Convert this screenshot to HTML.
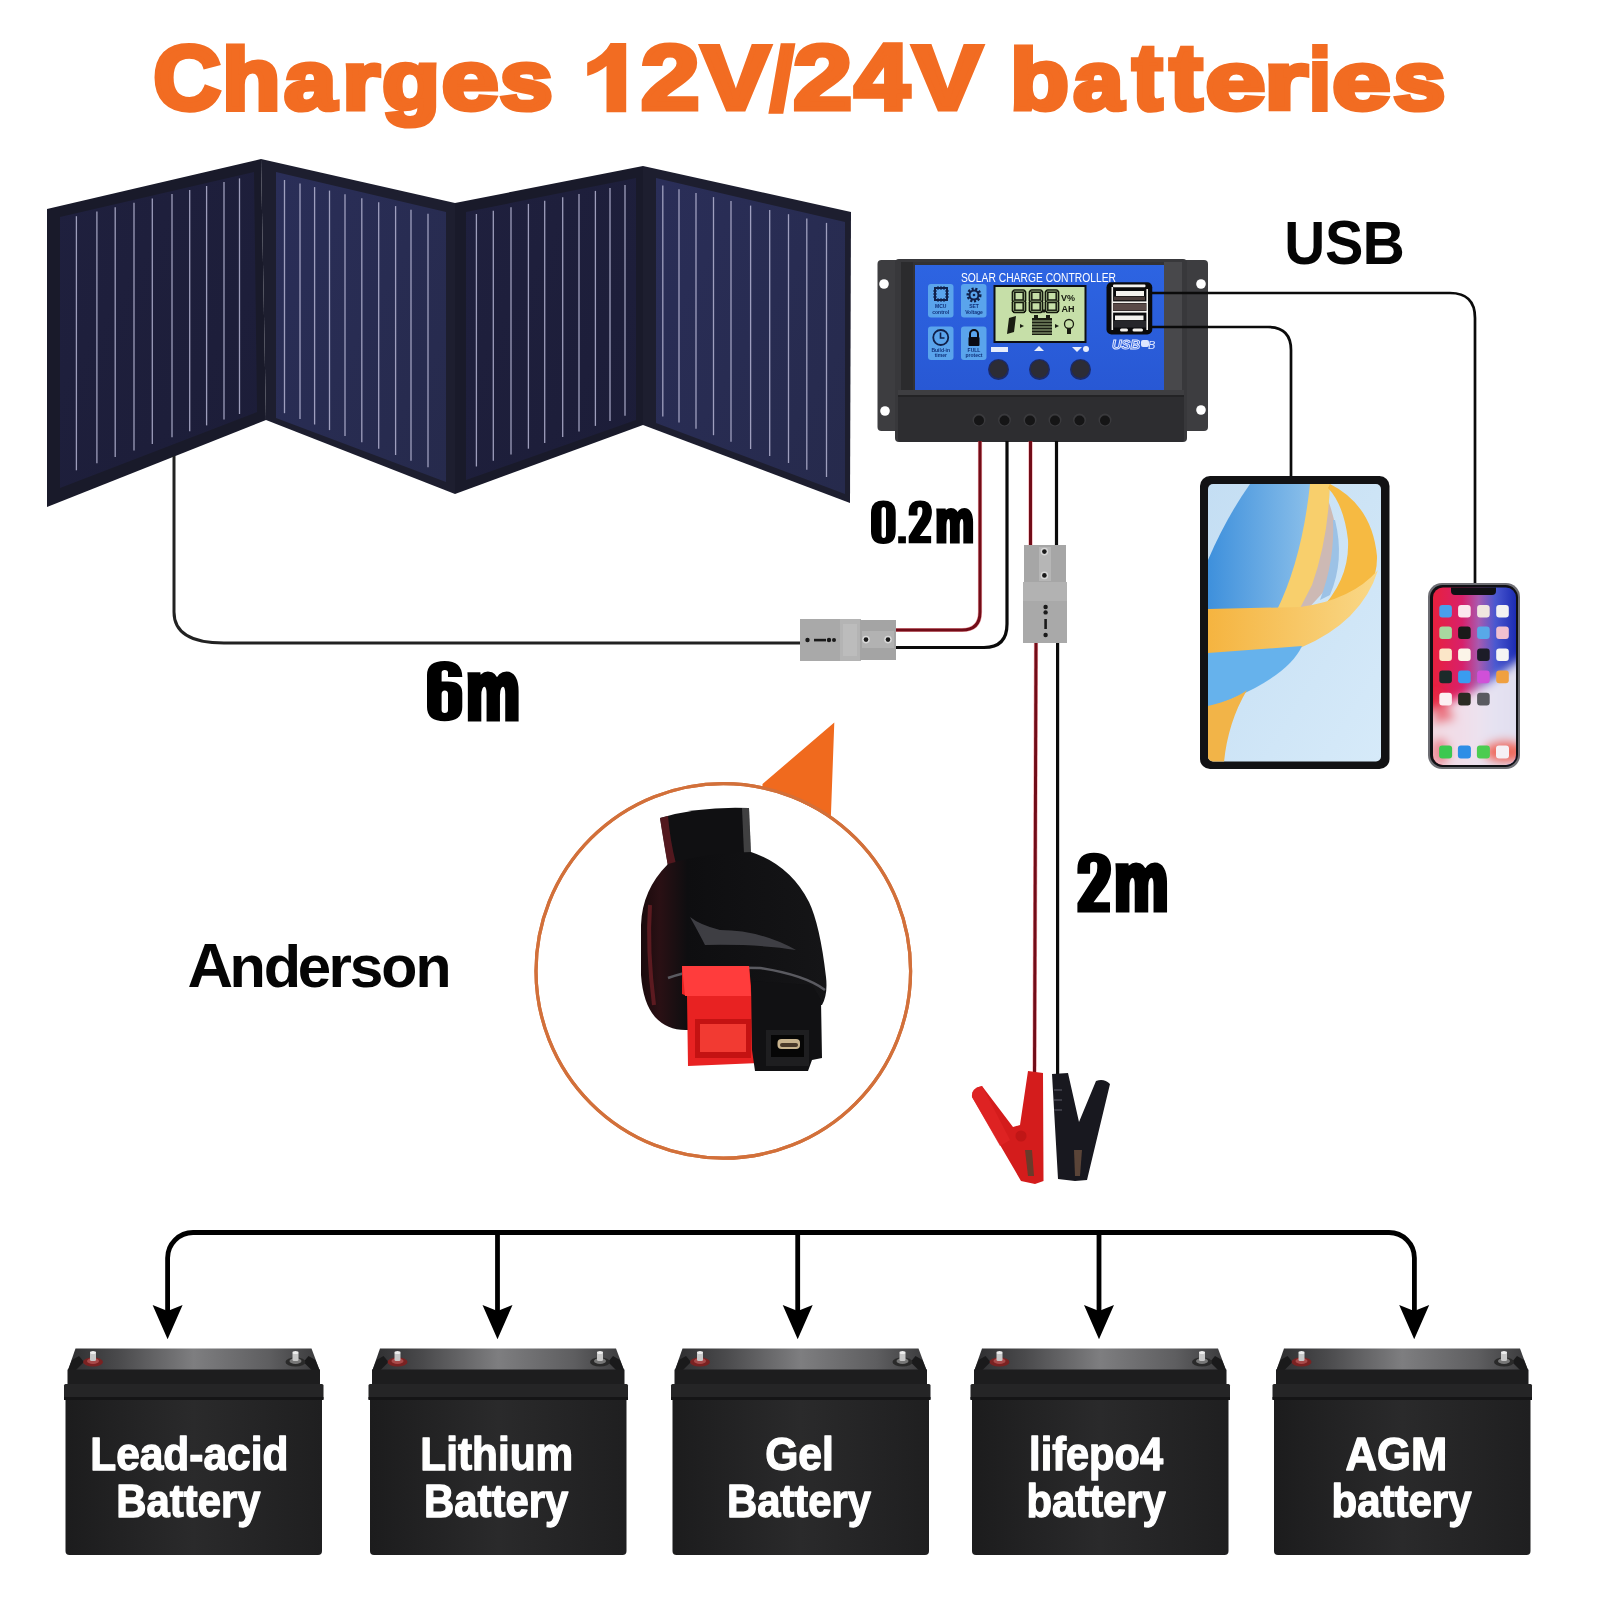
<!DOCTYPE html>
<html><head><meta charset="utf-8">
<style>
html,body{margin:0;padding:0;background:#fff;}
body{width:1600px;height:1600px;overflow:hidden;font-family:"Liberation Sans",sans-serif;}
svg{display:block;}
text{font-family:"Liberation Sans",sans-serif;font-weight:bold;-webkit-font-smoothing:antialiased;}
svg{will-change:transform;}
</style></head>
<body>
<svg width="1600" height="1600" viewBox="0 0 1600 1600">

<defs>
<linearGradient id="gP2" x1="0" y1="0" x2="1" y2="1"><stop offset="0" stop-color="#2a2e58"/><stop offset="1" stop-color="#262a4c"/></linearGradient>
<linearGradient id="gP1" x1="0" y1="0" x2="1" y2="1"><stop offset="0" stop-color="#1f203e"/><stop offset="1" stop-color="#1c1d38"/></linearGradient>
<linearGradient id="gBlue" x1="0" y1="0" x2="0" y2="1"><stop offset="0" stop-color="#2d64e2"/><stop offset="1" stop-color="#2858d4"/></linearGradient>
<linearGradient id="gBatTop" x1="0" y1="0" x2="1" y2="0"><stop offset="0" stop-color="#2e2e30"/><stop offset="0.2" stop-color="#4a4a4c"/><stop offset="0.5" stop-color="#7e7e80"/><stop offset="0.8" stop-color="#5e5e60"/><stop offset="1" stop-color="#3a3a3c"/></linearGradient>
<linearGradient id="gBatBody" x1="0" y1="0" x2="1" y2="0"><stop offset="0" stop-color="#1c1c1d"/><stop offset="0.5" stop-color="#2a2a2b"/><stop offset="1" stop-color="#1f1f20"/></linearGradient>
<linearGradient id="gPhone" x1="0" y1="0" x2="1" y2="1"><stop offset="0" stop-color="#e8384a"/><stop offset="0.45" stop-color="#b43a86"/><stop offset="1" stop-color="#2c47c8"/></linearGradient>
<linearGradient id="gPhoneB" x1="0" y1="0" x2="0" y2="1"><stop offset="0" stop-color="#fff" stop-opacity="0"/><stop offset="0.55" stop-color="#fff" stop-opacity="0"/><stop offset="0.8" stop-color="#f4d8dc" stop-opacity="0.9"/><stop offset="1" stop-color="#e84050" stop-opacity="0.9"/></linearGradient>
<linearGradient id="gGray" x1="0" y1="0" x2="0" y2="1"><stop offset="0" stop-color="#b0b0b0"/><stop offset="1" stop-color="#9e9e9e"/></linearGradient>
<radialGradient id="gConn" cx="0.4" cy="0.35" r="0.7"><stop offset="0" stop-color="#3a3a3c"/><stop offset="1" stop-color="#0c0c0d"/></radialGradient>
</defs>
<filter id="fBlur6" x="-20%" y="-20%" width="140%" height="140%"><feGaussianBlur stdDeviation="5"/></filter>
<rect width="1600" height="1600" fill="#fff"/>

<text transform="scale(1.0567,1.0367)" x="145.39" y="105.38" font-size="88" fill="#f26c22" stroke="#f26c22" stroke-width="5.25" stroke-linejoin="miter" stroke-miterlimit="3">C</text><text transform="scale(1.0806,0.9802)" x="205.77" y="111.46" font-size="88" fill="#f26c22" stroke="#f26c22" stroke-width="5.34" stroke-linejoin="miter" stroke-miterlimit="3">h</text><text transform="scale(1.0603,0.9461)" x="268.11" y="115.47" font-size="88" fill="#f26c22" stroke="#f26c22" stroke-width="5.49" stroke-linejoin="miter" stroke-miterlimit="3">a</text><text transform="scale(1.0880,0.9326)" x="314.73" y="117.15" font-size="88" fill="#f26c22" stroke="#f26c22" stroke-width="5.46" stroke-linejoin="miter" stroke-miterlimit="3">r</text><text transform="scale(1.0710,0.9326)" x="356.94" y="117.15" font-size="88" fill="#f26c22" stroke="#f26c22" stroke-width="5.50" stroke-linejoin="miter" stroke-miterlimit="3">g</text><text transform="scale(1.1601,0.9440)" x="380.79" y="115.73" font-size="88" fill="#f26c22" stroke="#f26c22" stroke-width="5.26" stroke-linejoin="miter" stroke-miterlimit="3">e</text><text transform="scale(1.0808,0.9431)" x="462.31" y="115.84" font-size="88" fill="#f26c22" stroke="#f26c22" stroke-width="5.45" stroke-linejoin="miter" stroke-miterlimit="3">s</text><text transform="scale(1.1967,1.0302)" x="535.65" y="106.05" font-size="88" fill="#f26c22" stroke="#f26c22" stroke-width="4.95" stroke-linejoin="miter" stroke-miterlimit="3">2</text><text transform="scale(1.1654,1.0323)" x="601.91" y="105.83" font-size="88" fill="#f26c22" stroke="#f26c22" stroke-width="5.01" stroke-linejoin="miter" stroke-miterlimit="3">V</text><text transform="scale(0.9129,0.9943)" x="844.28" y="109.88" font-size="88" fill="#f26c22" stroke="#f26c22" stroke-width="5.77" stroke-linejoin="miter" stroke-miterlimit="3">/</text><text transform="scale(1.2014,1.0302)" x="660.22" y="106.05" font-size="88" fill="#f26c22" stroke="#f26c22" stroke-width="4.94" stroke-linejoin="miter" stroke-miterlimit="3">2</text><text transform="scale(1.1223,1.0447)" x="761.45" y="104.57" font-size="88" fill="#f26c22" stroke="#f26c22" stroke-width="5.08" stroke-linejoin="miter" stroke-miterlimit="3">4</text><text transform="scale(1.1741,1.0323)" x="777.67" y="105.83" font-size="88" fill="#f26c22" stroke="#f26c22" stroke-width="5.00" stroke-linejoin="miter" stroke-miterlimit="3">V</text><text transform="scale(1.0892,0.9770)" x="927.48" y="111.82" font-size="88" fill="#f26c22" stroke="#f26c22" stroke-width="5.33" stroke-linejoin="miter" stroke-miterlimit="3">b</text><text transform="scale(1.0166,0.9334)" x="1055.92" y="117.04" font-size="88" fill="#f26c22" stroke="#f26c22" stroke-width="5.65" stroke-linejoin="miter" stroke-miterlimit="3">a</text><text transform="scale(1.0163,1.0452)" x="1114.25" y="104.53" font-size="88" fill="#f26c22" stroke="#f26c22" stroke-width="5.34" stroke-linejoin="miter" stroke-miterlimit="3">t</text><text transform="scale(1.1158,1.0452)" x="1048.38" y="104.53" font-size="88" fill="#f26c22" stroke="#f26c22" stroke-width="5.09" stroke-linejoin="miter" stroke-miterlimit="3">t</text><text transform="scale(1.2236,0.9334)" x="985.21" y="117.04" font-size="88" fill="#f26c22" stroke="#f26c22" stroke-width="5.15" stroke-linejoin="miter" stroke-miterlimit="3">e</text><text transform="scale(1.2798,0.9326)" x="987.74" y="117.15" font-size="88" fill="#f26c22" stroke="#f26c22" stroke-width="5.03" stroke-linejoin="miter" stroke-miterlimit="3">r</text><text transform="scale(0.8531,0.9770)" x="1535.08" y="111.82" font-size="88" fill="#f26c22" stroke="#f26c22" stroke-width="6.02" stroke-linejoin="miter" stroke-miterlimit="3">i</text><text transform="scale(1.1907,0.9334)" x="1118.80" y="117.04" font-size="88" fill="#f26c22" stroke="#f26c22" stroke-width="5.22" stroke-linejoin="miter" stroke-miterlimit="3">e</text><text transform="scale(1.0583,0.9326)" x="1316.73" y="117.15" font-size="88" fill="#f26c22" stroke="#f26c22" stroke-width="5.54" stroke-linejoin="miter" stroke-miterlimit="3">s</text>
<path d="M606.5,112.2 L626.2,112.2 L626.2,43.1 L610.5,43.1 Q604,56 587.2,62.8 L587.2,76 Q599,72.5 606.5,66 Z" fill="#f26c22"/>
<g id="panels">
<polygon points="47,209 261,159 266,420 47,507" fill="#191a2a"/>
<polygon points="261,159 455,203 455,494 266,420" fill="#1d1e2f"/>
<polygon points="455,203 643,166 643,425 455,494" fill="#191a2a"/>
<polygon points="643,166 851,212 850,503 643,425" fill="#1d1e2f"/>
<polygon points="60,217 254,172 257,412 60,488" fill="url(#gP1)"/>
<polygon points="276,172 446,212 446,482 276,418" fill="url(#gP2)"/>
<polygon points="466,212 636,178 636,420 466,480" fill="url(#gP1)"/>
<polygon points="656,178 845,222 845,494 656,423" fill="url(#gP2)"/>
<g stroke="#b4b4d2" stroke-width="1.3" opacity="0.85">
<line x1="76.4" y1="216.2" x2="76.4" y2="470.3"/><line x1="96.9" y1="211.4" x2="96.9" y2="463.3"/><line x1="115.2" y1="207.2" x2="115.2" y2="456.9"/><line x1="134.0" y1="202.8" x2="134.0" y2="450.5"/><line x1="152.3" y1="198.6" x2="152.3" y2="444.1"/><line x1="172.0" y1="194.0" x2="172.0" y2="437.3"/><line x1="189.7" y1="189.9" x2="189.7" y2="431.2"/><line x1="206.6" y1="186.0" x2="206.6" y2="425.4"/><line x1="224.0" y1="182.0" x2="224.0" y2="419.4"/><line x1="239.5" y1="178.4" x2="239.5" y2="414.0"/>
<line x1="284.5" y1="180.0" x2="284.5" y2="413.2"/><line x1="300.0" y1="183.6" x2="300.0" y2="419.0"/><line x1="314.6" y1="187.1" x2="314.6" y2="424.5"/><line x1="329.5" y1="190.6" x2="329.5" y2="430.1"/><line x1="345.0" y1="194.2" x2="345.0" y2="436.0"/><line x1="361.8" y1="198.2" x2="361.8" y2="442.3"/><line x1="378.7" y1="202.2" x2="378.7" y2="448.7"/><line x1="395.6" y1="206.1" x2="395.6" y2="455.0"/><line x1="411.0" y1="209.8" x2="411.0" y2="460.8"/><line x1="428.0" y1="213.8" x2="428.0" y2="467.2"/>
<line x1="476.4" y1="214.0" x2="476.4" y2="466.5"/><line x1="493.3" y1="210.7" x2="493.3" y2="460.7"/><line x1="511.0" y1="207.3" x2="511.0" y2="454.6"/><line x1="528.4" y1="203.9" x2="528.4" y2="448.7"/><line x1="544.7" y1="200.7" x2="544.7" y2="443.1"/><line x1="562.7" y1="197.2" x2="562.7" y2="437.0"/><line x1="579.0" y1="194.1" x2="579.0" y2="431.4"/><line x1="595.4" y1="190.9" x2="595.4" y2="425.9"/><line x1="610.0" y1="188.0" x2="610.0" y2="420.9"/><line x1="625.0" y1="185.1" x2="625.0" y2="415.8"/>
<line x1="662.8" y1="185.6" x2="662.8" y2="416.5"/><line x1="679.0" y1="189.2" x2="679.0" y2="422.5"/><line x1="696.0" y1="193.1" x2="696.0" y2="428.8"/><line x1="713.5" y1="197.1" x2="713.5" y2="435.2"/><line x1="731.0" y1="201.1" x2="731.0" y2="441.7"/><line x1="750.6" y1="205.6" x2="750.6" y2="449.0"/><line x1="769.7" y1="210.0" x2="769.7" y2="456.0"/><line x1="788.5" y1="214.2" x2="788.5" y2="463.0"/><line x1="806.8" y1="218.4" x2="806.8" y2="469.7"/><line x1="826.5" y1="222.9" x2="826.5" y2="477.0"/>
</g>
</g>
<path d="M174,456 V612 Q174,643 224,643 H805" fill="none" stroke="#222" stroke-width="3"/>
<g id="controller"><rect x="877.5" y="260" width="26" height="171" rx="4" fill="#3d3d40"/><rect x="1182" y="260" width="26" height="171" rx="4" fill="#3d3d40"/><rect x="895" y="259" width="292" height="183" rx="4" fill="#38383b"/><rect x="901" y="262" width="280" height="130" fill="#323235"/><rect x="1164" y="262" width="18" height="130" fill="#48484b"/><rect x="901" y="262" width="12" height="130" fill="#2b2b2d"/><rect x="915" y="265" width="249" height="125" fill="url(#gBlue)"/><rect x="898" y="390" width="286" height="52" rx="3" fill="#2d2d30"/><rect x="898" y="390" width="286" height="5" fill="#3e3e41"/><rect x="898" y="395" width="286" height="2" fill="#232325"/><circle cx="979" cy="420" r="6.5" fill="#3a3a3d"/><circle cx="979" cy="420.5" r="5" fill="#151516"/><circle cx="1004.5" cy="420" r="6.5" fill="#3a3a3d"/><circle cx="1004.5" cy="420.5" r="5" fill="#151516"/><circle cx="1030" cy="420" r="6.5" fill="#3a3a3d"/><circle cx="1030" cy="420.5" r="5" fill="#151516"/><circle cx="1055" cy="420" r="6.5" fill="#3a3a3d"/><circle cx="1055" cy="420.5" r="5" fill="#151516"/><circle cx="1079.5" cy="420" r="6.5" fill="#3a3a3d"/><circle cx="1079.5" cy="420.5" r="5" fill="#151516"/><circle cx="1105" cy="420" r="6.5" fill="#3a3a3d"/><circle cx="1105" cy="420.5" r="5" fill="#151516"/><circle cx="884" cy="284" r="4.8" fill="#fff"/><circle cx="885" cy="411" r="4.8" fill="#fff"/><circle cx="1201" cy="284" r="4.8" fill="#fff"/><circle cx="1201" cy="410" r="4.8" fill="#fff"/><text x="961" y="281.5" font-size="13.5" font-weight="normal" fill="#fff" textLength="155" lengthAdjust="spacingAndGlyphs" style="font-weight:normal">SOLAR CHARGE CONTROLLER</text><rect x="928" y="284" width="25.5" height="33.5" rx="3" fill="#5aa4ec"/><rect x="961" y="284" width="25.5" height="33.5" rx="3" fill="#5aa4ec"/><rect x="928" y="326.5" width="25.5" height="33.5" rx="3" fill="#5aa4ec"/><rect x="961" y="326.5" width="25.5" height="33.5" rx="3" fill="#5aa4ec"/><rect x="935" y="288" width="12" height="12" fill="none" stroke="#10204a" stroke-width="2"/><g stroke="#10204a" stroke-width="1"><line x1="938" y1="286" x2="938" y2="302"/><line x1="941" y1="286" x2="941" y2="302"/><line x1="944" y1="286" x2="944" y2="302"/><line x1="933" y1="291" x2="949" y2="291"/><line x1="933" y1="294" x2="949" y2="294"/><line x1="933" y1="297" x2="949" y2="297"/></g><rect x="937" y="290" width="8" height="8" fill="#5aa4ec"/><text x="940.75" y="308" font-size="5" fill="#10307a" text-anchor="middle">MCU</text><text x="940.75" y="314" font-size="5" fill="#10307a" text-anchor="middle">control</text><circle cx="974" cy="295" r="6" fill="none" stroke="#10204a" stroke-width="3" stroke-dasharray="2 1.6"/><circle cx="974" cy="295" r="4.5" fill="none" stroke="#10204a" stroke-width="2"/><circle cx="974" cy="295" r="1.3" fill="#10204a"/><text x="974" y="308" font-size="5" fill="#10307a" text-anchor="middle">SET</text><text x="974" y="314" font-size="5" fill="#10307a" text-anchor="middle">Voltage</text><circle cx="940.75" cy="337.5" r="7.5" fill="none" stroke="#10204a" stroke-width="1.8"/><path d="M940.5,332.5 V338 H944.5" fill="none" stroke="#10204a" stroke-width="1.6"/><text x="940.75" y="351.5" font-size="5" fill="#10307a" text-anchor="middle">Build-in</text><text x="940.75" y="357" font-size="5" fill="#10307a" text-anchor="middle">timer</text><path d="M970,337 v-3 a4,4 0 0 1 8,0 v3" fill="none" stroke="#0a0a12" stroke-width="2"/><rect x="968.5" y="337" width="11" height="9" rx="1" fill="#0a0a12"/><text x="974" y="351.5" font-size="5" fill="#10307a" text-anchor="middle">FULL</text><text x="974" y="357" font-size="5" fill="#10307a" text-anchor="middle">protect</text><rect x="993.5" y="285" width="93" height="58" fill="#0d0f14"/><rect x="995.5" y="287" width="89" height="54" fill="#c6dfa8"/><g stroke="#15180e" stroke-width="3.9" stroke-linecap="round"><line x1="1014.6" y1="291.1" x2="1023.4" y2="291.1"/><line x1="1014.6" y1="301.2" x2="1023.4" y2="301.2"/><line x1="1014.6" y1="311.4" x2="1023.4" y2="311.4"/><line x1="1013.6" y1="292.1" x2="1013.6" y2="300.2"/><line x1="1024.4" y1="292.1" x2="1024.4" y2="300.2"/><line x1="1013.6" y1="302.2" x2="1013.6" y2="310.4"/><line x1="1024.4" y1="302.2" x2="1024.4" y2="310.4"/><line x1="1031.6" y1="291.1" x2="1040.4" y2="291.1"/><line x1="1031.6" y1="301.2" x2="1040.4" y2="301.2"/><line x1="1031.6" y1="311.4" x2="1040.4" y2="311.4"/><line x1="1030.6" y1="292.1" x2="1030.6" y2="300.2"/><line x1="1041.4" y1="292.1" x2="1041.4" y2="300.2"/><line x1="1030.6" y1="302.2" x2="1030.6" y2="310.4"/><line x1="1041.4" y1="302.2" x2="1041.4" y2="310.4"/><line x1="1047.6" y1="291.1" x2="1056.4" y2="291.1"/><line x1="1047.6" y1="301.2" x2="1056.4" y2="301.2"/><line x1="1047.6" y1="311.4" x2="1056.4" y2="311.4"/><line x1="1046.6" y1="292.1" x2="1046.6" y2="300.2"/><line x1="1057.4" y1="292.1" x2="1057.4" y2="300.2"/><line x1="1046.6" y1="302.2" x2="1046.6" y2="310.4"/><line x1="1057.4" y1="302.2" x2="1057.4" y2="310.4"/></g><g stroke="#9fb884" stroke-width="0.9" stroke-linecap="round"><line x1="1014.6" y1="291.1" x2="1023.4" y2="291.1"/><line x1="1014.6" y1="301.2" x2="1023.4" y2="301.2"/><line x1="1014.6" y1="311.4" x2="1023.4" y2="311.4"/><line x1="1013.6" y1="292.1" x2="1013.6" y2="300.2"/><line x1="1024.4" y1="292.1" x2="1024.4" y2="300.2"/><line x1="1013.6" y1="302.2" x2="1013.6" y2="310.4"/><line x1="1024.4" y1="302.2" x2="1024.4" y2="310.4"/><line x1="1031.6" y1="291.1" x2="1040.4" y2="291.1"/><line x1="1031.6" y1="301.2" x2="1040.4" y2="301.2"/><line x1="1031.6" y1="311.4" x2="1040.4" y2="311.4"/><line x1="1030.6" y1="292.1" x2="1030.6" y2="300.2"/><line x1="1041.4" y1="292.1" x2="1041.4" y2="300.2"/><line x1="1030.6" y1="302.2" x2="1030.6" y2="310.4"/><line x1="1041.4" y1="302.2" x2="1041.4" y2="310.4"/><line x1="1047.6" y1="291.1" x2="1056.4" y2="291.1"/><line x1="1047.6" y1="301.2" x2="1056.4" y2="301.2"/><line x1="1047.6" y1="311.4" x2="1056.4" y2="311.4"/><line x1="1046.6" y1="292.1" x2="1046.6" y2="300.2"/><line x1="1057.4" y1="292.1" x2="1057.4" y2="300.2"/><line x1="1046.6" y1="302.2" x2="1046.6" y2="310.4"/><line x1="1057.4" y1="302.2" x2="1057.4" y2="310.4"/></g><rect x="1042" y="309.5" width="3" height="3" fill="#15180e"/><text x="1061" y="301" font-size="9" fill="#15180e">V%</text><text x="1061.5" y="312" font-size="9" fill="#15180e">AH</text><g fill="#1a1d12"><path d="M1009,318 l7,-2 l-2,16 l-7,2 z"/><path d="M1020,324 l4,2 l-4,2 z"/><rect x="1032" y="318" width="20" height="17"/><rect x="1034" y="315" width="4" height="3"/><rect x="1046" y="315" width="4" height="3"/><path d="M1055,324 l4,2 l-4,2 z"/><circle cx="1069" cy="324" r="4.5" fill="none" stroke="#1a1d12" stroke-width="1.3"/><rect x="1067" y="329" width="4" height="5"/></g><g stroke="#c6dfa8" stroke-width="0.8"><line x1="1032" y1="321" x2="1052" y2="321"/><line x1="1032" y1="324" x2="1052" y2="324"/><line x1="1032" y1="327" x2="1052" y2="327"/><line x1="1032" y1="330" x2="1052" y2="330"/><line x1="1032" y1="333" x2="1052" y2="333"/></g><rect x="991" y="347" width="17" height="5" fill="#e8eefc"/><path d="M1039,346 l5,5 h-10 z" fill="#e8eefc"/><path d="M1072,347 h10 l-5,5 z" fill="#e8eefc"/><circle cx="1086" cy="349" r="3" fill="#e8eefc"/><circle cx="998.5" cy="369.5" r="10.5" fill="#1b2a6a"/><circle cx="998.5" cy="369" r="9" fill="#2c2c36"/><circle cx="1039.5" cy="369.5" r="10.5" fill="#1b2a6a"/><circle cx="1039.5" cy="369" r="9" fill="#2c2c36"/><circle cx="1080.5" cy="369.5" r="10.5" fill="#1b2a6a"/><circle cx="1080.5" cy="369" r="9" fill="#2c2c36"/><rect x="1106.5" y="282.25" width="45.75" height="52.25" rx="5" fill="#0a0a0c"/><g fill="#f4f2ee"><rect x="1111.5" y="287" width="1.6" height="43"/><rect x="1146.4" y="289" width="1.6" height="41"/><rect x="1113" y="284.6" width="32.5" height="2.6" rx="1"/><rect x="1116" y="291" width="28" height="5"/><rect x="1113" y="301.4" width="34" height="1.6"/><rect x="1113" y="311" width="34" height="1.6"/><rect x="1115" y="315.5" width="28.5" height="4.6"/><rect x="1120" y="328.4" width="8" height="3" rx="1.5"/><rect x="1132.5" y="328.4" width="10.5" height="3" rx="1.5"/></g><rect x="1114" y="296.6" width="31" height="3.6" fill="#4a3c3a"/><rect x="1113.2" y="303.4" width="33" height="7.2" fill="#5a4a48"/><rect x="1114" y="321" width="32" height="6.5" fill="#26262a"/><text x="1112" y="349" font-size="13" font-style="italic" fill="none" stroke="#dde6ff" stroke-width="1" textLength="28" lengthAdjust="spacingAndGlyphs">USB</text><rect x="1141" y="340" width="8" height="7" rx="2" fill="#dde6ff"/><text x="1148" y="349" font-size="11" font-style="italic" fill="#dde6ff" style="font-weight:normal">B</text></g>
<path d="M1150,293 H1450 Q1475,293 1475,318 V584" fill="none" stroke="#0b0b0b" stroke-width="2.7"/>
<path d="M1150,327 H1268 Q1291,327 1291,350 V477" fill="none" stroke="#0b0b0b" stroke-width="2.7"/>
<defs><clipPath id="cTab"><rect x="1208" y="484" width="173" height="277.5" rx="5"/></clipPath><linearGradient id="gTabBg" x1="0" y1="0" x2="1" y2="1"><stop offset="0" stop-color="#c4def3"/><stop offset="1" stop-color="#d6eaf9"/></linearGradient><linearGradient id="gBlueR" x1="0" y1="0" x2="1" y2="0"><stop offset="0" stop-color="#3e90dc"/><stop offset="1" stop-color="#8cc0ea"/></linearGradient><linearGradient id="gYel" x1="0" y1="0" x2="1" y2="0"><stop offset="0" stop-color="#f5b440"/><stop offset="1" stop-color="#f9d888"/></linearGradient></defs><rect x="1200" y="476" width="189.5" height="293" rx="10" fill="#121214"/><g clip-path="url(#cTab)"><rect x="1208" y="484" width="173" height="278" fill="url(#gTabBg)"/><path d="M1250,484 L1312,484 Q1305,560 1282,612 L1208,612 L1208,560 Q1226,518 1250,484 Z" fill="url(#gBlueR)"/><path d="M1328,500 Q1345,545 1330,585 L1305,612 L1290,612 Q1318,560 1322,500 Z" fill="#cdb9b4"/><path d="M1335,520 Q1345,560 1330,595 L1320,600 Q1335,560 1333,520 Z" fill="#9cc2e6"/><path d="M1310,484 L1330,484 Q1328,540 1312,585 L1298,612 L1276,612 Q1302,560 1310,484 Z" fill="#f8cf6c"/><path d="M1330,484 Q1372,505 1377,556 Q1378,592 1345,606 L1318,612 Q1350,580 1348,540 Q1344,505 1328,488 Z" fill="#f6ba42"/><path d="M1208,609 L1300,607 Q1352,600 1378,570 Q1362,622 1300,648 L1208,655 Z" fill="url(#gYel)"/><path d="M1208,653 L1302,646 Q1292,668 1255,688 Q1232,700 1208,708 Z" fill="#66b2ec"/><path d="M1208,706 Q1236,699 1247,690 Q1228,722 1224,762 L1208,762 Z" fill="#f2b448"/></g>
<defs><clipPath id="cPh"><rect x="1433" y="587.5" width="83" height="177.5" rx="10"/></clipPath><linearGradient id="gPhH" x1="0" y1="0" x2="1" y2="0"><stop offset="0" stop-color="#e8203e"/><stop offset="0.35" stop-color="#d8206a"/><stop offset="0.55" stop-color="#a85ab0"/><stop offset="0.75" stop-color="#4a58d0"/><stop offset="1" stop-color="#1c2cb4"/></linearGradient><linearGradient id="gPhV2" x1="0" y1="0" x2="0" y2="1"><stop offset="0" stop-color="#f2eef4" stop-opacity="0"/><stop offset="0.35" stop-color="#f2eef4" stop-opacity="0.85"/><stop offset="1" stop-color="#f4e4e6" stop-opacity="0.95"/></linearGradient></defs><rect x="1428" y="583" width="92" height="186" rx="14" fill="#6e6e74"/><rect x="1430" y="585" width="88" height="182" rx="12.5" fill="#101014"/><g clip-path="url(#cPh)"><rect x="1433" y="587" width="83" height="178" fill="url(#gPhH)"/><g filter="url(#fBlur6)"><path d="M1425,712 Q1460,700 1490,682 L1525,655 L1525,775 L1425,775 Z" fill="#f2eef4" opacity="0.92"/><ellipse cx="1505" cy="752" rx="22" ry="12" fill="#f0503c" opacity="0.8"/><ellipse cx="1440" cy="752" rx="10" ry="14" fill="#e84858" opacity="0.55"/><path d="M1433,690 Q1450,700 1455,720 L1433,725 Z" fill="#e83848" opacity="0.6"/></g><path d="M1451,587 h45 v4 q0,4 -4,4 h-37 q-4,0 -4,-4 z" fill="#101014"/><rect x="1439.3" y="605.0" width="12.6" height="12.6" rx="3" fill="#4aa0ec"/><rect x="1458.1" y="605.0" width="12.6" height="12.6" rx="3" fill="#fbe8ee"/><rect x="1477.1" y="605.0" width="12.6" height="12.6" rx="3" fill="#f0e6e0"/><rect x="1496.2" y="605.0" width="12.6" height="12.6" rx="3" fill="#f2f2f2"/><rect x="1439.3" y="626.5" width="12.6" height="12.6" rx="3" fill="#a8d8a0"/><rect x="1458.1" y="626.5" width="12.6" height="12.6" rx="3" fill="#1a1a1a"/><rect x="1477.1" y="626.5" width="12.6" height="12.6" rx="3" fill="#58a8e8"/><rect x="1496.2" y="626.5" width="12.6" height="12.6" rx="3" fill="#f0c0d0"/><rect x="1439.3" y="648.5" width="12.6" height="12.6" rx="3" fill="#fbe6c8"/><rect x="1458.1" y="648.5" width="12.6" height="12.6" rx="3" fill="#fbf4e8"/><rect x="1477.1" y="648.5" width="12.6" height="12.6" rx="3" fill="#1c1c28"/><rect x="1496.2" y="648.5" width="12.6" height="12.6" rx="3" fill="#f4f4f4"/><rect x="1439.3" y="670.6" width="12.6" height="12.6" rx="3" fill="#1c2a2a"/><rect x="1458.1" y="670.6" width="12.6" height="12.6" rx="3" fill="#3a9cf0"/><rect x="1477.1" y="670.6" width="12.6" height="12.6" rx="3" fill="#d050d8"/><rect x="1496.2" y="670.6" width="12.6" height="12.6" rx="3" fill="#f0a040"/><rect x="1439.3" y="692.8" width="12.6" height="12.6" rx="3" fill="#fcf0f2"/><rect x="1458.1" y="692.8" width="12.6" height="12.6" rx="3" fill="#2a2a22"/><rect x="1477.1" y="692.8" width="12.6" height="12.6" rx="3" fill="#5a5a60"/><rect x="1439.1" y="745.4" width="13" height="13" rx="3" fill="#3cc850"/><rect x="1457.9" y="745.4" width="13" height="13" rx="3" fill="#2e8ee6"/><rect x="1476.9" y="745.4" width="13" height="13" rx="3" fill="#4ccc50"/><rect x="1496.0" y="745.4" width="13" height="13" rx="3" fill="#f6f0f4"/></g>
<path d="M980,441 V612 Q980,630 962,630 H895" fill="none" stroke="#e8606a" stroke-width="4.2" opacity="0.55"/><path d="M980,441 V612 Q980,630 962,630 H895" fill="none" stroke="#720c18" stroke-width="3"/>
<path d="M1007,441 V624 Q1007,647.5 984,647.5 H895" fill="none" stroke="#0a0a0a" stroke-width="3.2"/>
<path d="M1030.5,441 V546" fill="none" stroke="#e8606a" stroke-width="4.2" opacity="0.55"/><path d="M1030.5,441 V546" fill="none" stroke="#720c18" stroke-width="3"/>
<path d="M1056.5,441 V546" fill="none" stroke="#0a0a0a" stroke-width="3.2"/>
<path d="M1036,642 L1034.5,1075" fill="none" stroke="#e8606a" stroke-width="4.2" opacity="0.55"/><path d="M1036,642 L1034.5,1075" fill="none" stroke="#720c18" stroke-width="3"/>
<path d="M1057.6,642 V1076" fill="none" stroke="#0a0a0a" stroke-width="3.2"/>
<rect x="800" y="619" width="41" height="42" fill="#a9a9a9"/><rect x="840" y="619" width="21" height="42" fill="#b4b4b4"/><rect x="860" y="620" width="36" height="40" fill="#a4a4a4"/><rect x="843" y="624" width="14" height="32" fill="#bcbcbc"/><rect x="862" y="631" width="32" height="17" fill="#b2b2b2"/><circle cx="807.5" cy="640" r="2.2" fill="#1a1a1a"/><rect x="814" y="638.8" width="12" height="2.6" fill="#1a1a1a"/><circle cx="829" cy="640" r="2.2" fill="#1a1a1a"/><circle cx="834" cy="640" r="2" fill="#1a1a1a"/><circle cx="866" cy="639.6" r="3.8" fill="#d8d8d8"/><circle cx="866" cy="639.6" r="2.3" fill="#1a1a1a"/><circle cx="888" cy="639.6" r="3.8" fill="#d8d8d8"/><circle cx="888" cy="639.6" r="2.3" fill="#1a1a1a"/><rect x="1024" y="545" width="42" height="38" fill="#a6a6a6"/><rect x="1039" y="547" width="12" height="34" fill="#b6b6b6"/><rect x="1023" y="582" width="44" height="20" fill="#b2b2b2"/><rect x="1023" y="601" width="44" height="42" fill="#a9a9a9"/><circle cx="1044.4" cy="551.6" r="3.8" fill="#d8d8d8"/><circle cx="1044.4" cy="551.6" r="2.3" fill="#1a1a1a"/><circle cx="1044.4" cy="575.4" r="3.8" fill="#d8d8d8"/><circle cx="1044.4" cy="575.4" r="2.3" fill="#1a1a1a"/><circle cx="1045.6" cy="607" r="2.2" fill="#1a1a1a"/><circle cx="1045.6" cy="612.4" r="2.2" fill="#1a1a1a"/><rect x="1044.3" y="619" width="2.6" height="10" fill="#1a1a1a"/><circle cx="1045.6" cy="635" r="2.2" fill="#1a1a1a"/>
<text transform="scale(0.9150,0.9987)" x="1403.56" y="263.94" font-size="62" fill="#050505">U</text><text transform="scale(0.9288,1.0025)" x="1426.65" y="262.94" font-size="62" fill="#050505">S</text><text transform="scale(0.9468,0.9987)" x="1439.13" y="263.94" font-size="62" fill="#050505">B</text>
<text transform="scale(1.0193,1.0104)" x="184.07" y="976.82" font-size="62" fill="#050505">A</text><text transform="scale(0.9586,0.9493)" x="239.51" y="1039.67" font-size="62" fill="#050505">n</text><text transform="scale(0.9890,0.9594)" x="266.60" y="1028.81" font-size="62" fill="#050505">d</text><text transform="scale(0.9686,0.9592)" x="307.31" y="1028.99" font-size="62" fill="#050505">e</text><text transform="scale(0.9685,0.9583)" x="339.24" y="1029.92" font-size="62" fill="#050505">r</text><text transform="scale(0.9745,0.9583)" x="359.03" y="1029.92" font-size="62" fill="#050505">s</text><text transform="scale(0.9537,0.9592)" x="399.68" y="1028.99" font-size="62" fill="#050505">o</text><text transform="scale(0.9519,0.9493)" x="436.62" y="1039.67" font-size="62" fill="#050505">n</text>
<text transform="scale(0.7814,1.0381)" x="596.56" y="691.46" font-size="77" fill="#000" stroke="#000" stroke-width="6.66" stroke-linejoin="miter" stroke-miterlimit="3">m</text>
<path fill-rule="evenodd" fill="#000" d="M444.6,660.9 Q462.3,661 462.3,677 L448,677 L448,681.5 Q462.3,681.5 462.3,693 L462.3,707 Q462.3,721.25 444.6,721.25 Q427,721.25 427,707 L427,675 Q427,660.9 444.6,660.9 Z M441.6,681.5 L441.6,672.5 Q441.6,669.9 444.8,669.9 Q448,669.9 448,672.5 L448,681.5 Z M441.6,694 Q441.6,690.5 444.8,690.5 Q448,690.5 448,694 L448,710 Q448,713 444.8,713 Q441.6,713 441.6,710 Z"/>
<text transform="scale(0.7834,1.0330)" x="1194.01" y="523.85" font-size="55" fill="#000" stroke="#000" stroke-width="5.00" stroke-linejoin="miter" stroke-miterlimit="3">m</text>
<path fill="#000" d="M908.70,515.60 L908.70,512.19 Q908.70,500.60 920.06,500.60 Q931.90,500.60 931.90,512.19 Q931.90,518.62 927.70,525.05 L919.79,535.96 L931.13,535.96 L931.13,543.20 L908.70,543.20 L908.70,536.47 L921.16,516.49 Q922.36,514.36 922.36,511.51 L922.36,509.33 Q922.36,507.03 919.93,507.03 Q917.45,507.03 917.45,509.33 L917.45,515.60 Z"/>
<path fill-rule="evenodd" fill="#000" d="M883.35,500.6 Q895.7,500.6 895.7,513 L895.7,531.5 Q895.7,544 883.35,544 Q871,544 871,531.5 L871,513 Q871,500.6 883.35,500.6 Z M883.75,507 Q886,507 886,510 L886,535 Q886,538 883.75,538 Q881.5,538 881.5,535 L881.5,510 Q881.5,507 883.75,507 Z"/>
<text transform="scale(0.8083,1.0534)" x="1378.45" y="863.30" font-size="75" fill="#000" stroke="#000" stroke-width="6.50" stroke-linejoin="miter" stroke-miterlimit="3">m</text>
<path fill="#000" d="M1077.40,873.75 L1077.40,868.97 Q1077.40,852.75 1093.90,852.75 Q1111.10,852.75 1111.10,868.97 Q1111.10,877.98 1105.00,886.99 L1093.51,902.26 L1109.99,902.26 L1109.99,912.40 L1077.40,912.40 L1077.40,902.98 L1095.50,875.00 Q1097.25,872.02 1097.25,868.02 L1097.25,864.98 Q1097.25,861.76 1093.71,861.76 Q1090.10,861.76 1090.10,864.98 L1090.10,873.75 Z"/>
<rect x="898.2" y="536.3" width="7.7" height="7" fill="#000"/>
<defs><linearGradient id="gCable" x1="0" y1="0" x2="0" y2="1"><stop offset="0" stop-color="#1a1a1a" stop-opacity="0.9"/><stop offset="1" stop-color="#0e0e0e"/></linearGradient><linearGradient id="gBoot" x1="0" y1="0" x2="1" y2="0"><stop offset="0" stop-color="#1a0a0c"/><stop offset="0.1" stop-color="#2a1014"/><stop offset="0.25" stop-color="#0e0e10"/><stop offset="1" stop-color="#151517"/></linearGradient><linearGradient id="gRed" x1="0" y1="0" x2="0" y2="1"><stop offset="0" stop-color="#f03438"/><stop offset="1" stop-color="#e0181c"/></linearGradient></defs><circle cx="723.3" cy="970.9" r="187.3" fill="#fff" stroke="#d2703a" stroke-width="3.2"/><path d="M762.5,784 L834.3,722.5 L830.8,818.5 Q798,797.5 762.5,787.5 Z" fill="#f06a1e"/><circle cx="723.3" cy="970.9" r="187.3" fill="none" stroke="#d2703a" stroke-width="3.2"/><path d="M660,818 Q700,806 749,808 L751,853 Q720,862 668,866 Z" fill="#101012"/><path d="M660,818 Q664,845 668,866 L676,864 Q670,840 668,816 Z" fill="#5a1a20" opacity="0.9"/><path d="M742,808 L749,808 L751,853 L744,854 Z" fill="#9a9a9c" opacity="0.35"/><path d="M668,864 Q708,852 751,852 Q790,865 809,902 Q820,925 826,977 Q828,994 822,1005 L690,1000 L688,1030 Q668,1031 655,1017 Q643,1003 641,975 L641,925 Q642,890 668,864 Z" fill="url(#gBoot)"/><path d="M650,905 Q647,950 654,1005" stroke="#6a1e24" stroke-width="4" fill="none" opacity="0.8"/><path d="M690,917 Q700,935 705,945 Q760,944 796,950 Q760,930 720,930 Q700,925 690,917 Z" fill="#4a4a50" opacity="0.8"/><path d="M668,978 Q700,966 760,968 Q805,975 825,990" stroke="#5a5a60" stroke-width="2.5" fill="none"/><path d="M682,966 L749,966 L752,996 L759,998 L759,1063 L688,1066 L687,996 L682,994 Z" fill="#e82222"/><path d="M682,966 L749,966 L751,996 L685,996 Z" fill="#ff3c3c"/><rect x="695" y="1019" width="56" height="39" fill="#c41212"/><rect x="700" y="1024" width="46" height="28" fill="#f23a32"/><path d="M751,981 L812,985 L821,1000 L822,1058 L812,1060 L808,1071 L755,1071 L752,1050 Z" fill="#111113"/><rect x="766" y="1030" width="43" height="36" fill="#1e1e20"/><rect x="771" y="1035" width="33" height="22" fill="#060606"/><rect x="777.5" y="1039" width="22.5" height="10" rx="4" fill="#c9b48e"/><rect x="780" y="1043" width="18" height="4" rx="2" fill="#4a3a2a"/>
<path d="M1028,1071 L1043,1073 L1043.5,1181 L1035,1184 L1021,1181 L972,1097 Q971,1088 982,1086 L1013,1127 L1020,1125 Z" fill="#d41c1c"/><path d="M982,1086 Q971,1088 972,1097 L1000,1146 L1010,1140 Z" fill="#e02424" opacity="0.8"/><circle cx="1021" cy="1136" r="5.5" fill="#c01616"/><path d="M1025,1150 L1032,1150 L1034,1176 L1028,1176 Z" fill="#6a3a2a"/><path d="M1052,1074 L1068,1073 L1079,1122 L1096,1081 Q1104,1078 1110,1084 L1087,1180 L1075,1181 L1058,1179 Z" fill="#18181f"/><path d="M1054,1090 L1062,1090 M1054,1100 L1062,1100 M1054,1110 L1062,1110" stroke="#3a3a44" stroke-width="2"/><path d="M1074,1150 L1082,1150 L1080,1176 L1075,1176 Z" fill="#5a4438"/>
<path d="M167.6,1318 V1258 A25.5,25.5 0 0 1 193.1,1232.5 H1389 A25.4,25.4 0 0 1 1414.4,1258 V1318" fill="none" stroke="#000" stroke-width="4.8"/><line x1="497.5" y1="1232.5" x2="497.5" y2="1318" stroke="#000" stroke-width="4.8"/><line x1="797.7" y1="1232.5" x2="797.7" y2="1318" stroke="#000" stroke-width="4.8"/><line x1="1099" y1="1232.5" x2="1099" y2="1318" stroke="#000" stroke-width="4.8"/><path d="M152.6,1305 L167.6,1311 L182.6,1305 L167.6,1339.3 Z" fill="#000"/><path d="M482.5,1305 L497.5,1311 L512.5,1305 L497.5,1339.3 Z" fill="#000"/><path d="M782.7,1305 L797.7,1311 L812.7,1305 L797.7,1339.3 Z" fill="#000"/><path d="M1084,1305 L1099,1311 L1114,1305 L1099,1339.3 Z" fill="#000"/><path d="M1399.2,1305 L1414.2,1311 L1429.2,1305 L1414.2,1339.3 Z" fill="#000"/>
<path d="M75.5,1348.5 H311.5 L319.5,1370 H68 Z" fill="url(#gBatTop)"/><path d="M68,1370 L72,1360 L79,1356 L84,1362 L76,1370 Z" fill="#1a1a1b"/><path d="M319.5,1370 L315.5,1360 L308.5,1356 L303.5,1362 L311.5,1370 Z" fill="#1a1a1b"/><rect x="67.5" y="1369.5" width="252.5" height="15" fill="#1d1d1e"/><rect x="64" y="1384" width="259.5" height="16" rx="1.5" fill="#252526"/><rect x="64" y="1397" width="259.5" height="3" fill="#151516"/><path d="M65.5,1400 H322.0 V1551 Q322.0,1555 318.0,1555 H69.5 Q65.5,1555 65.5,1551 Z" fill="url(#gBatBody)"/><ellipse cx="93" cy="1362" rx="10" ry="4.5" fill="#7a2222"/><ellipse cx="93" cy="1361" rx="6" ry="3" fill="#a84a4a"/><rect x="90" y="1352" width="6" height="9" rx="1.5" fill="#c8c8c8"/><ellipse cx="93" cy="1352.5" rx="3" ry="1.5" fill="#eee"/><ellipse cx="295.5" cy="1362" rx="10" ry="4.5" fill="#2a2a2a"/><ellipse cx="295.5" cy="1361" rx="6" ry="3" fill="#777"/><rect x="292.5" y="1352" width="6" height="9" rx="1.5" fill="#c8c8c8"/><ellipse cx="295.5" cy="1352.5" rx="3" ry="1.5" fill="#eee"/><text transform="scale(0.9334,1.0000)" x="96.65" y="1469.75" font-size="45.5" fill="#fff" style="font-kerning:none" stroke="#fff" stroke-width="1.30" stroke-linejoin="round">Lead-acid</text><text transform="scale(0.9192,1.0000)" x="126.57" y="1516.85" font-size="45.5" fill="#fff" style="font-kerning:none" stroke="#fff" stroke-width="1.30" stroke-linejoin="round">Battery</text>
<path d="M380.0,1348.5 H616.0 L624.0,1370 H372.5 Z" fill="url(#gBatTop)"/><path d="M372.5,1370 L376.5,1360 L383.5,1356 L388.5,1362 L380.5,1370 Z" fill="#1a1a1b"/><path d="M624.0,1370 L620.0,1360 L613.0,1356 L608.0,1362 L616.0,1370 Z" fill="#1a1a1b"/><rect x="372.0" y="1369.5" width="252.5" height="15" fill="#1d1d1e"/><rect x="368.5" y="1384" width="259.5" height="16" rx="1.5" fill="#252526"/><rect x="368.5" y="1397" width="259.5" height="3" fill="#151516"/><path d="M370.0,1400 H626.5 V1551 Q626.5,1555 622.5,1555 H374.0 Q370.0,1555 370.0,1551 Z" fill="url(#gBatBody)"/><ellipse cx="397.5" cy="1362" rx="10" ry="4.5" fill="#7a2222"/><ellipse cx="397.5" cy="1361" rx="6" ry="3" fill="#a84a4a"/><rect x="394.5" y="1352" width="6" height="9" rx="1.5" fill="#c8c8c8"/><ellipse cx="397.5" cy="1352.5" rx="3" ry="1.5" fill="#eee"/><ellipse cx="600.0" cy="1362" rx="10" ry="4.5" fill="#2a2a2a"/><ellipse cx="600.0" cy="1361" rx="6" ry="3" fill="#777"/><rect x="597.0" y="1352" width="6" height="9" rx="1.5" fill="#c8c8c8"/><ellipse cx="600.0" cy="1352.5" rx="3" ry="1.5" fill="#eee"/><text transform="scale(0.9308,1.0000)" x="451.55" y="1469.75" font-size="45.5" fill="#fff" style="font-kerning:none" stroke="#fff" stroke-width="1.30" stroke-linejoin="round">Lithium</text><text transform="scale(0.9199,1.0000)" x="461.03" y="1516.85" font-size="45.5" fill="#fff" style="font-kerning:none" stroke="#fff" stroke-width="1.30" stroke-linejoin="round">Battery</text>
<path d="M682.5,1348.5 H918.5 L926.5,1370 H675 Z" fill="url(#gBatTop)"/><path d="M675,1370 L679,1360 L686,1356 L691,1362 L683,1370 Z" fill="#1a1a1b"/><path d="M926.5,1370 L922.5,1360 L915.5,1356 L910.5,1362 L918.5,1370 Z" fill="#1a1a1b"/><rect x="674.5" y="1369.5" width="252.5" height="15" fill="#1d1d1e"/><rect x="671" y="1384" width="259.5" height="16" rx="1.5" fill="#252526"/><rect x="671" y="1397" width="259.5" height="3" fill="#151516"/><path d="M672.5,1400 H929.0 V1551 Q929.0,1555 925.0,1555 H676.5 Q672.5,1555 672.5,1551 Z" fill="url(#gBatBody)"/><ellipse cx="700" cy="1362" rx="10" ry="4.5" fill="#7a2222"/><ellipse cx="700" cy="1361" rx="6" ry="3" fill="#a84a4a"/><rect x="697" y="1352" width="6" height="9" rx="1.5" fill="#c8c8c8"/><ellipse cx="700" cy="1352.5" rx="3" ry="1.5" fill="#eee"/><ellipse cx="902.5" cy="1362" rx="10" ry="4.5" fill="#2a2a2a"/><ellipse cx="902.5" cy="1361" rx="6" ry="3" fill="#777"/><rect x="899.5" y="1352" width="6" height="9" rx="1.5" fill="#c8c8c8"/><ellipse cx="902.5" cy="1352.5" rx="3" ry="1.5" fill="#eee"/><text transform="scale(0.9370,1.0000)" x="816.60" y="1469.75" font-size="45.5" fill="#fff" style="font-kerning:none" stroke="#fff" stroke-width="1.30" stroke-linejoin="round">Gel</text><text transform="scale(0.9186,1.0000)" x="791.38" y="1516.85" font-size="45.5" fill="#fff" style="font-kerning:none" stroke="#fff" stroke-width="1.30" stroke-linejoin="round">Battery</text>
<path d="M982.0,1348.5 H1218.0 L1226.0,1370 H974.5 Z" fill="url(#gBatTop)"/><path d="M974.5,1370 L978.5,1360 L985.5,1356 L990.5,1362 L982.5,1370 Z" fill="#1a1a1b"/><path d="M1226.0,1370 L1222.0,1360 L1215.0,1356 L1210.0,1362 L1218.0,1370 Z" fill="#1a1a1b"/><rect x="974.0" y="1369.5" width="252.5" height="15" fill="#1d1d1e"/><rect x="970.5" y="1384" width="259.5" height="16" rx="1.5" fill="#252526"/><rect x="970.5" y="1397" width="259.5" height="3" fill="#151516"/><path d="M972.0,1400 H1228.5 V1551 Q1228.5,1555 1224.5,1555 H976.0 Q972.0,1555 972.0,1551 Z" fill="url(#gBatBody)"/><ellipse cx="999.5" cy="1362" rx="10" ry="4.5" fill="#7a2222"/><ellipse cx="999.5" cy="1361" rx="6" ry="3" fill="#a84a4a"/><rect x="996.5" y="1352" width="6" height="9" rx="1.5" fill="#c8c8c8"/><ellipse cx="999.5" cy="1352.5" rx="3" ry="1.5" fill="#eee"/><ellipse cx="1202.0" cy="1362" rx="10" ry="4.5" fill="#2a2a2a"/><ellipse cx="1202.0" cy="1361" rx="6" ry="3" fill="#777"/><rect x="1199.0" y="1352" width="6" height="9" rx="1.5" fill="#c8c8c8"/><ellipse cx="1202.0" cy="1352.5" rx="3" ry="1.5" fill="#eee"/><text transform="scale(0.9133,1.0000)" x="1126.79" y="1469.75" font-size="45.5" fill="#fff" style="font-kerning:none" stroke="#fff" stroke-width="1.30" stroke-linejoin="round">lifepo4</text><text transform="scale(0.9193,1.0000)" x="1116.54" y="1516.85" font-size="45.5" fill="#fff" style="font-kerning:none" stroke="#fff" stroke-width="1.30" stroke-linejoin="round">battery</text>
<path d="M1284.0,1348.5 H1520.0 L1528.0,1370 H1276.5 Z" fill="url(#gBatTop)"/><path d="M1276.5,1370 L1280.5,1360 L1287.5,1356 L1292.5,1362 L1284.5,1370 Z" fill="#1a1a1b"/><path d="M1528.0,1370 L1524.0,1360 L1517.0,1356 L1512.0,1362 L1520.0,1370 Z" fill="#1a1a1b"/><rect x="1276.0" y="1369.5" width="252.5" height="15" fill="#1d1d1e"/><rect x="1272.5" y="1384" width="259.5" height="16" rx="1.5" fill="#252526"/><rect x="1272.5" y="1397" width="259.5" height="3" fill="#151516"/><path d="M1274.0,1400 H1530.5 V1551 Q1530.5,1555 1526.5,1555 H1278.0 Q1274.0,1555 1274.0,1551 Z" fill="url(#gBatBody)"/><ellipse cx="1301.5" cy="1362" rx="10" ry="4.5" fill="#7a2222"/><ellipse cx="1301.5" cy="1361" rx="6" ry="3" fill="#a84a4a"/><rect x="1298.5" y="1352" width="6" height="9" rx="1.5" fill="#c8c8c8"/><ellipse cx="1301.5" cy="1352.5" rx="3" ry="1.5" fill="#eee"/><ellipse cx="1504.0" cy="1362" rx="10" ry="4.5" fill="#2a2a2a"/><ellipse cx="1504.0" cy="1361" rx="6" ry="3" fill="#777"/><rect x="1501.0" y="1352" width="6" height="9" rx="1.5" fill="#c8c8c8"/><ellipse cx="1504.0" cy="1352.5" rx="3" ry="1.5" fill="#eee"/><text transform="scale(0.9581,1.0000)" x="1404.44" y="1469.75" font-size="45.5" fill="#fff" style="font-kerning:none" stroke="#fff" stroke-width="1.30" stroke-linejoin="round">AGM</text><text transform="scale(0.9227,1.0000)" x="1443.11" y="1516.85" font-size="45.5" fill="#fff" style="font-kerning:none" stroke="#fff" stroke-width="1.30" stroke-linejoin="round">battery</text>
</svg>
</body></html>
